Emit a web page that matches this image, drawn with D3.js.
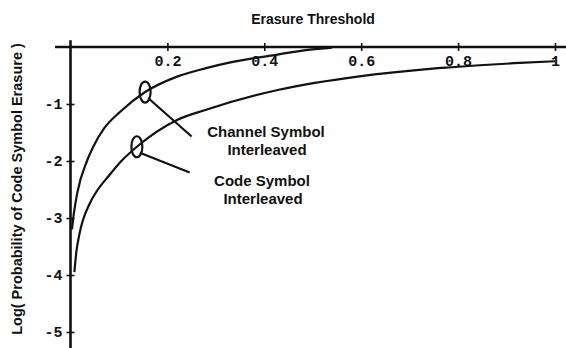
<!DOCTYPE html>
<html>
<head>
<meta charset="utf-8">
<script src="https://cdn.jsdelivr.net/npm/d3@7"></script>
<style>
  html, body { margin: 0; padding: 0; background: #fff; }
  svg { display: block; }
  .lbl { font-family: "Liberation Sans", Arial, sans-serif; font-weight: bold; fill: #111; }
  .tick text { font-family: "Liberation Mono", "Courier New", monospace; font-weight: bold; fill: #111; }
</style>
</head>
<body>
<svg id="chart" width="566" height="348"></svg>
<script>
// Erasure threshold (x) against log10 probability of code symbol erasure (y)
const xTicks = [0.2, 0.4, 0.6, 0.8, 1];
const xTickLabels = ["0.2", "0.4", "0.6", "0.8", "1"];
const yTicks = [-1, -2, -3, -4, -5];
const yTickLabels = ["-1", "-2", "-3", "-4", "-5"];

// Channel symbol interleaving
const channelThreshold = [0.003, 0.006, 0.014, 0.034, 0.047, 0.07, 0.102, 0.154, 0.22, 0.28, 0.33, 0.43, 0.49, 0.54];
const channelLogP      = [-3.2, -2.98, -2.56, -2.0, -1.75, -1.42, -1.14, -0.79, -0.52, -0.37, -0.27, -0.13, -0.05, -0.01];

// Code symbol interleaving
const codeThreshold = [0.008, 0.012, 0.018, 0.04, 0.055, 0.08, 0.105, 0.137, 0.22, 0.28, 0.43, 0.6, 0.72, 0.78, 0.927, 1.0];
const codeLogP      = [-3.95, -3.6, -3.3, -2.74, -2.52, -2.25, -2.0, -1.75, -1.28, -1.1, -0.75, -0.51, -0.4, -0.36, -0.28, -0.25];

const seriesLabels = [["Channel Symbol", "Interleaved"], ["Code Symbol", "Interleaved"]];
const titleText = "Erasure Threshold";
const yTitleText = "Log( Probability of Code Symbol Erasure )";

const svg = d3.select("#chart");
const x = d3.scaleLinear().domain([0, 1]).range([70.5, 555]);
const y = d3.scaleLinear().domain([0, -5]).range([47, 332]);

// x axis along y = 0, labels hanging below, ticks crossing the line
const xAxis = svg.append("g")
  .attr("transform", `translate(0,${y(0)})`)
  .call(d3.axisBottom(x).tickValues(xTicks).tickFormat((d, i) => xTickLabels[i]).tickSize(4).tickPadding(7));
xAxis.select(".domain").remove();
xAxis.selectAll(".tick line").attr("y1", -4).attr("stroke", "#111").attr("stroke-width", 1.6);
xAxis.selectAll(".tick text").attr("font-size", 15).attr("dy", "0.5em");
xAxis.append("line")
  .attr("x1", x(-0.032)).attr("x2", x(1.03))
  .attr("stroke", "#111").attr("stroke-width", 2.6);

// y axis along x = 0
const yAxis = svg.append("g")
  .attr("transform", `translate(${x(0)},0)`)
  .call(d3.axisLeft(y).tickValues(yTicks).tickFormat((d, i) => yTickLabels[i]).tickSize(4).tickPadding(4));
yAxis.select(".domain").remove();
yAxis.selectAll(".tick line").attr("x1", 4).attr("stroke", "#111").attr("stroke-width", 1.6);
yAxis.selectAll(".tick text").attr("font-size", 15);
yAxis.append("line")
  .attr("y1", y(0.12)).attr("y2", y(-5.3))
  .attr("stroke", "#111").attr("stroke-width", 2.6);

// curves
const line = d3.line()
  .x(d => x(d[0]))
  .y(d => y(d[1]))
  .curve(d3.curveMonotoneX);

const curves = [
  d3.zip(channelThreshold, channelLogP),
  d3.zip(codeThreshold, codeLogP)
];
svg.append("g").selectAll("path")
  .data(curves)
  .join("path")
  .attr("d", line)
  .attr("fill", "none")
  .attr("stroke", "#111")
  .attr("stroke-width", 2.2);

// callouts: ellipse on the curve, leader line to the label
const callouts = [
  { at: [channelThreshold[7], channelLogP[7]], to: [0.25, -1.57], text: seriesLabels[0], tx: 266, ty: 137 },
  { at: [codeThreshold[7], codeLogP[7]], to: [0.246, -2.2], text: seriesLabels[1], tx: 262, ty: 186 }
];
const co = svg.append("g");
callouts.forEach(c => {
  const cx = x(c.at[0]), cy = y(c.at[1]);
  co.append("line")
    .attr("x1", cx + 3).attr("y1", cy + 6)
    .attr("x2", x(c.to[0])).attr("y2", y(c.to[1]))
    .attr("stroke", "#111").attr("stroke-width", 2.2);
  co.append("ellipse")
    .attr("cx", cx).attr("cy", cy).attr("rx", 5.5).attr("ry", 10.5)
    .attr("fill", "none").attr("stroke", "#111").attr("stroke-width", 2.2);
  co.append("text").attr("class", "lbl")
    .attr("x", c.tx).attr("y", c.ty).attr("text-anchor", "middle").attr("font-size", 15)
    .text(c.text[0]);
  co.append("text").attr("class", "lbl")
    .attr("x", c.tx + 1).attr("y", c.ty + 18).attr("text-anchor", "middle").attr("font-size", 15)
    .text(c.text[1]);
});

// titles
svg.append("text").attr("class", "lbl")
  .attr("x", 313).attr("y", 24).attr("text-anchor", "middle").attr("font-size", 14)
  .text(titleText);
svg.append("text").attr("class", "lbl")
  .attr("transform", "translate(22,189) rotate(-90)")
  .attr("text-anchor", "middle").attr("font-size", 14.5)
  .text(yTitleText);
</script>
</body>
</html>
